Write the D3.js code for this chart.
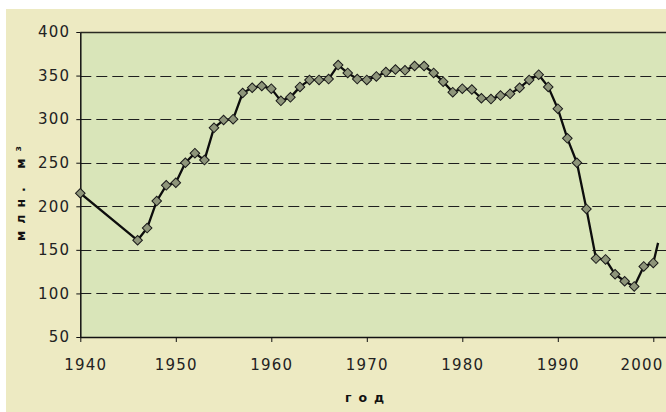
<!DOCTYPE html>
<html><head><meta charset="utf-8">
<script src="https://cdn.jsdelivr.net/npm/d3@7"></script>
<style>html,body{margin:0;padding:0;background:#fff;}svg{display:block;}</style>
</head><body>
<svg id="chart" width="666" height="412"></svg>
<script>
// ---- data ----
const years = [1940,1946,1947,1948,1949,1950,1951,1952,1953,1954,1955,1956,1957,1958,1959,
  1960,1961,1962,1963,1964,1965,1966,1967,1968,1969,1970,1971,1972,1973,1974,1975,1976,1977,
  1978,1979,1980,1981,1982,1983,1984,1985,1986,1987,1988,1989,1990,1991,1992,1993,1994,1995,
  1996,1997,1998,1999,2000];
const values = [215,161,175,206,224,227,250,261,253,290,299,300,330,336,338,
  335,321,325,337,345,345,346,362,353,346,345,349,354,357,356,361,361,353,
  343,331,335,334,324,323,327,329,336,345,351,337,312,278,250,197,140,139,
  122,114,108,131,135];
// line continues past last marker
const trailingYear = [2000.5];
const trailingValue = [158];
const yTicks = [50,100,150,200,250,300,350,400];
const xTicks = [1940,1950,1960,1970,1980,1990,2000];
const yTitle = "млн. м³";
const xTitle = "год";

// ---- layout ----
const W = 666, H = 412;
const plot = {left: 80.3, top: 32, right: 666, bottom: 337};
const svg = d3.select("#chart");

svg.append("rect").attr("x", 6).attr("y", 9).attr("width", W - 6).attr("height", H - 9)
  .attr("fill", "#EDEAC2");
svg.append("rect").attr("x", plot.left).attr("y", plot.top)
  .attr("width", plot.right - plot.left).attr("height", plot.bottom - plot.top)
  .attr("fill", "#D9E5B9");

const x = d3.scaleLinear().domain([1940, 2000]).range([plot.left, 653.3]);
const y = d3.scaleLinear().domain([50, 400]).range([plot.bottom, plot.top]);

// gridlines
svg.append("g").selectAll("line").data(yTicks.filter(t => t > 50 && t < 400)).join("line")
  .attr("x1", plot.left).attr("x2", plot.right)
  .attr("y1", d => Math.round(y(d)) + 0.5).attr("y2", d => Math.round(y(d)) + 0.5)
  .attr("stroke", "#1e1e1e").attr("stroke-width", 1).attr("stroke-dasharray", "11,5");

// top border
svg.append("line").attr("x1", plot.left).attr("x2", plot.right)
  .attr("y1", plot.top + 0.5).attr("y2", plot.top + 0.5).attr("stroke", "#2a2a22").attr("stroke-width", 1.5);

// y axis
const yAxis = svg.append("g").attr("transform", `translate(${plot.left},0)`)
  .call(d3.axisLeft(y).tickValues(yTicks).tickSize(4).tickPadding(6).tickSizeOuter(0));
yAxis.select(".domain").attr("stroke", "#111").attr("stroke-width", 1.5);
yAxis.selectAll(".tick line").attr("stroke", "#111");
yAxis.selectAll("text").attr("font-family", "DejaVu Sans").attr("font-size", 15)
  .attr("letter-spacing", "1.2px").attr("fill", "#222");

// x axis
const xAxis = svg.append("g").attr("transform", `translate(0,${plot.bottom})`)
  .call(d3.axisBottom(x).tickValues(xTicks).tickSize(5).tickPadding(17).tickSizeOuter(0).tickFormat(d3.format("d")));
xAxis.select(".domain").attr("d", `M${plot.left},0.5H${plot.right}`).attr("stroke", "#111").attr("stroke-width", 1.5);
xAxis.selectAll(".tick line").attr("stroke", "#111");
xAxis.selectAll("text").attr("font-family", "DejaVu Sans").attr("font-size", 15)
  .attr("letter-spacing", "1.2px").attr("fill", "#222");
xAxis.selectAll(".tick").filter(d => d === 1940).select("text").attr("dx", 5);
xAxis.selectAll(".tick").filter(d => d === 2000).select("text")
  .attr("text-anchor", "end").attr("x", W - 3 - x(2000));

// titles
svg.append("text").attr("x", 368).attr("y", 402).attr("text-anchor", "middle")
  .attr("font-family", "DejaVu Sans").attr("font-weight", "900").attr("font-size", 12.5)
  .attr("letter-spacing", "7px").attr("fill", "#111").text(xTitle);
svg.append("text").attr("transform", "translate(25,190) rotate(-90)").attr("text-anchor", "middle")
  .attr("font-family", "DejaVu Sans").attr("font-weight", "900").attr("font-size", 12.5)
  .attr("letter-spacing", "7px").attr("fill", "#111").text(yTitle);

// clip
svg.append("clipPath").attr("id", "clip").append("rect")
  .attr("x", plot.left).attr("y", plot.top).attr("width", plot.right - plot.left).attr("height", plot.bottom - plot.top);

const pts = years.map((yr, i) => [yr, values[i]]);
const linePts = pts.concat(trailingYear.map((yr, i) => [yr, trailingValue[i]]));
const line = d3.line().x(d => x(d[0])).y(d => y(d[1]));
svg.append("path").attr("clip-path", "url(#clip)").attr("d", line(linePts))
  .attr("fill", "none").attr("stroke", "#0d0d0d").attr("stroke-width", 2.3).attr("stroke-linejoin", "round");

const sym = d3.symbol().type(d3.symbolSquare).size(46);
svg.append("g").selectAll("path").data(pts).join("path")
  .attr("d", sym)
  .attr("transform", d => `translate(${x(d[0])},${y(d[1])}) rotate(45)`)
  .attr("fill", "#8E957A").attr("stroke", "#1a1a1a").attr("stroke-width", 1);
</script>
</body></html>
